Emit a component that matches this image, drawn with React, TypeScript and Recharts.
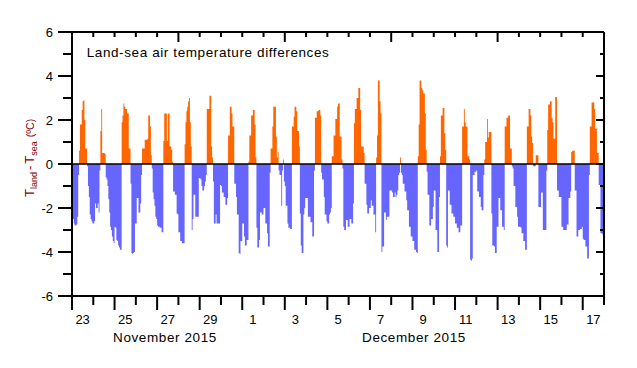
import React from 'react';
import { ComposedChart, Area, XAxis, YAxis, ReferenceLine } from 'recharts';

// Hourly land-sea air temperature differences (ºC), one array per day, hours 0..23
const nov23 = [-2.1,-2.5,-2.7,-2.8,-2.8,-2.75,-2.4,-0.5, 0.6,1.8,1.8,2.45,2.85,2.9,2.0,0.7, 0.7,-0.1,-1.0,-1.5,-2.3,-2.5,-2.6,-2.7];
const nov24 = [-2.7,-2.6,-1.8,-2.0,-2.0,-1.8,-2.2,-0.3, 1.5,2.5,0.5,0.5,0.5,0.45,-0.6,-0.7, -1.0,-1.6,-2.2,-2.85,-3.0,-3.3,-3.5,-3.6];
const nov25 = [-2.85,-2.9,-3.45,-3.5,-3.7,-3.8,-3.9,-3.9, 1.9,2.2,2.75,2.6,2.5,2.5,2.3,2.3, 0.7,0.7,-0.9,-4.05,-4.1,-4.05,-4.0,-2.7];
const nov26 = [-2.7,-1.55,-1.55,-2.2,-2.2,-1.8,-0.5,0.7, 0.7,0.7,1.1,1.1,1.1,1.15,2.2,2.2, 1.7,0.4,-0.2,-1.3,-1.6,-1.9,-2.4,-2.5];
const nov27 = [-2.8,-2.85,-2.85,-2.9,-2.9,-3.1,-3.1,1.05, 2.3,2.3,2.3,1.05,2.3,2.3,0.8,0.8, 0.65,0.1,-1.25,-1.25,-1.4,-1.4,-2.25,-2.3];
const nov28 = [-3.1,-3.1,-3.5,-3.5,-3.6,-3.6,-3.6,0.9, 1.9,2.4,2.6,2.85,3.0,1.9,0.8,-3.0, -2.5,-1.4,-1.4,-2.4,-2.4,-2.4,-2.4,-0.65];
const nov29 = [-0.65,-0.7,-1.0,-1.2,-1.2,-1.0,-0.8,-0.5, 2.5,2.5,2.5,3.1,3.1,0.8,0.3,-0.8, -2.7,-2.7,-2.3,-2.7,-2.7,-2.7,-2.7,-0.95];
const nov30 = [-1.0,-1.3,-1.3,-1.5,-1.5,-1.85,-1.85,-1.55, 1.3,1.3,2.6,2.6,2.3,1.7,1.7,-0.9, -0.9,-1.5,-2.3,-2.3,-4.05,-4.1,-3.5,-3.5];
const dec01 = [-2.7,-2.7,-3.3,-3.7,-3.7,-3.45,-3.45,0.1, 1.3,1.3,2.2,2.2,2.45,2.45,1.8,0.3, -2.9,-3.8,-3.8,-3.45,-2.2,-2.2,-2.3,-2.3];
const dec02 = [-2.0,-2.0,-2.7,-2.7,-3.15,-3.75,-3.75,-0.4, 0.7,0.7,1.7,2.6,2.6,2.6,1.25,0.3, 0.55,-0.3,-0.5,-0.5,-1.9,-0.3,0.2,-0.8];
const dec03 = [-1.0,-1.9,-1.9,-2.7,-2.9,-2.9,-2.95,-2.95, 1.7,1.7,2.15,2.6,2.6,2.4,1.5,1.5, 0.8,-2.25,-3.7,-4.05,-4.05,-2.3,-2.0,-1.55];
const dec04 = [-1.55,-1.55,-2.4,-2.4,-2.4,-2.65,-2.65,-3.3, -3.3,-0.3,2.1,2.1,2.4,2.4,2.45,2.45, 2.2,-0.4,-0.7,-0.7,-1.5,-2.3,-2.3,-2.6];
const dec05 = [-2.7,-2.7,-2.3,-2.2,-2.0,0.35,0.35,1.3, 1.3,2.05,2.05,2.6,2.75,2.75,1.25,1.25, 0.2,-0.2,-2.85,-3.0,-3.0,-2.55,-2.55,-2.85];
const dec06 = [-2.85,-2.5,-2.5,-2.7,-2.7,-1.8,1.85,2.5, 2.5,3.0,3.0,3.45,3.45,2.45,0.8,0.8, 0.8,0.5,-0.9,-0.9,-1.85,-2.25,-2.25,-2.0];
const dec07 = [-2.0,-1.65,-1.9,-1.9,-2.3,-2.3,-3.1,0.3, 1.3,3.8,3.8,2.85,2.3,-4.0,-3.75,-3.75, -2.2,-2.2,-2.55,-2.4,-2.4,-2.4,-1.2,-1.2];
const dec08 = [-1.2,-1.3,-1.5,-1.5,-1.3,-1.5,-1.4,-1.2, -0.5,-0.4,0.3,-0.4,-0.5,-0.9,-0.9,-1.25, -1.25,-1.65,-2.1,-2.1,-2.85,-2.85,-3.3,-3.3];
const dec09 = [-3.5,-3.5,-3.9,-3.9,-4.0,-4.05,0.35,1.8, 3.8,3.8,3.45,3.35,3.2,3.2,2.3,0.65, -0.35,-1.4,-1.4,-2.8,-2.8,-2.5,-2.5,-1.95];
const dec10 = [-1.2,-1.2,-3.0,-3.0,-4.0,-4.0,-1.5,0.35, 2.2,2.2,2.55,2.55,1.4,0.65,-3.7,-3.8, -1.2,-1.2,-1.85,-1.85,-2.25,-2.25,-2.4,-2.4];
const dec11 = [-2.7,-2.7,-2.9,-2.9,-3.1,-3.1,-2.8,-2.8, 1.7,1.7,2.5,1.9,1.7,1.7,0.35,0.35, 0.2,-4.35,-4.4,-4.3,-0.5,-0.5,-0.35,-0.35];
const dec12 = [-0.3,-1.25,-1.25,-1.5,-1.5,-1.95,-2.1,-2.1, -0.5,0.2,1.0,1.0,2.05,1.2,1.45,1.45, 1.45,-2.25,-3.7,-3.7,-3.75,-4.05,-4.05,-2.85];
const dec13 = [-2.85,-1.55,-1.55,-2.1,-2.1,-2.85,-2.85,-3.0, 1.7,1.7,2.1,2.1,2.2,2.2,0.7,0.7, -0.1,-0.2,-1.0,-1.0,-1.95,-1.95,-2.4,-2.85];
const dec14 = [-2.85,-2.85,-2.9,-3.15,-3.15,-3.5,-3.5,-3.9, -3.9,1.7,1.7,2.5,2.5,2.2,1.25,0.95, -0.1,-0.1,-0.1,0.4,0.4,0.4,-1.95,-1.95];
const dec15 = [-1.95,-1.3,-1.3,-3.0,-3.0,-3.0,-3.0,-0.3, 1.55,2.7,2.7,2.85,2.85,2.1,1.9,1.15, 1.15,3.05,3.05,-1.2,-1.2,-1.5,-1.5,-1.5];
const dec16 = [-2.85,-2.85,-3.0,-3.0,-3.0,-3.0,-2.75,-2.75, -1.55,-1.55,-1.25,0.55,0.6,0.6,0.6,-1.2, -1.2,-3.3,-3.3,-3.0,-3.0,-2.95,-2.95,-2.85];
const dec17 = [-3.4,-3.45,-3.45,-3.75,-3.75,-4.3,-4.3,-0.5, 1.7,1.7,2.8,2.8,2.8,2.5,1.6,1.6, 0.5,0.5,-0.95,-0.95,-3.15,-3.15,-3.2,-3.2];

const days = [nov23, nov24, nov25, nov26, nov27, nov28, nov29, nov30, dec01, dec02, dec03, dec04, dec05,
  dec06, dec07, dec08, dec09, dec10, dec11, dec12, dec13, dec14, dec15, dec16, dec17];

const dayLabels = ['23', '25', '27', '29', '1', '3', '5', '7', '9', '11', '13', '15', '17'];
const monthLabels = ['November 2015', 'December 2015'];
const yTicks = [-6, -5, -4, -3, -2, -1, 0, 1, 2, 3, 4, 5, 6];
const xTicks = Array.from({ length: days.length + 1 }, (_, i) => i);
const titleText = 'Land-sea air temperature differences';

const ORANGE = '#FF6600';
const BLUE = '#6666FF';
const FONT = '"Liberation Sans", Arial, sans-serif';

const W = 629;
const H = 352;
const PLOT_W = 532;
const DAY_PX = PLOT_W / days.length;

const rows: { t: number; pos: number; neg: number }[] = [];
days.forEach((vals, d) => {
  vals.forEach((v, h) => {
    rows.push({ t: d + h / 24, pos: v > 0 ? v : 0, neg: v < 0 ? v : 0 });
  });
});
{
  const last = dec17[dec17.length - 1];
  rows.push({ t: days.length, pos: last > 0 ? last : 0, neg: last < 0 ? last : 0 });
}

const LeftTick = (props: any) => {
  const { x, y, payload } = props;
  const v = payload.value;
  const major = v % 2 === 0;
  const len = major ? 14 : 9;
  return (
    <g>
      <line x1={x - len} x2={x} y1={y} y2={y} stroke="#000" strokeWidth={2} />
      {major && (
        <text x={x - 19} y={y + 4.7} textAnchor="end" fontSize={13} fontFamily={FONT} fill="#000">
          {String(v)}
        </text>
      )}
    </g>
  );
};

const RightTick = (props: any) => {
  const { x, y, payload } = props;
  const major = payload.value % 2 === 0;
  const len = major ? 8 : 4;
  return <line x1={x - len} x2={x} y1={y} y2={y} stroke="#000" strokeWidth={2} />;
};

const BottomTick = (props: any) => {
  const { x, y, payload } = props;
  const d = payload.value;
  const major = d % 2 === 0;
  const len = major ? 14 : 9;
  const lbl = major && d < days.length ? dayLabels[d / 2] : null;
  return (
    <g>
      <line x1={x} x2={x} y1={y} y2={y + len} stroke="#000" strokeWidth={2} />
      {lbl && (
        <text x={x + DAY_PX / 2} y={y + 28} textAnchor="middle" fontSize={13} fontFamily={FONT} fill="#000">
          {lbl}
        </text>
      )}
    </g>
  );
};

const TopTick = (props: any) => {
  const { x, y, payload } = props;
  const d = payload.value;
  const len = d % 5 === 0 ? 10 : 5;
  return <line x1={x} x2={x} y1={y} y2={y + len} stroke="#000" strokeWidth={2} />;
};

export default function App() {
  return (
    <div style={{ position: 'relative', width: W, height: H }}>
      <ComposedChart width={W} height={H} data={rows} margin={{ top: 14, right: 23, bottom: 10, left: 0 }}>
        <XAxis
          xAxisId="bottom"
          orientation="bottom"
          type="number"
          dataKey="t"
          domain={[0, days.length]}
          allowDataOverflow
          ticks={xTicks}
          interval={0}
          height={54}
          tickSize={0}
          tickMargin={0}
          tickLine={false}
          axisLine={{ stroke: '#000', strokeWidth: 2 }}
          tick={<BottomTick />}
        />
        <XAxis
          xAxisId="top"
          orientation="top"
          type="number"
          dataKey="t"
          domain={[0, days.length]}
          allowDataOverflow
          ticks={xTicks}
          interval={0}
          height={10}
          tickSize={0}
          tickMargin={0}
          tickLine={false}
          axisLine={{ stroke: '#000', strokeWidth: 2 }}
          tick={<TopTick />}
        />
        <YAxis
          yAxisId="left"
          orientation="left"
          type="number"
          domain={[-6, 6]}
          allowDataOverflow
          ticks={yTicks}
          interval={0}
          width={64}
          tickSize={0}
          tickMargin={0}
          tickLine={false}
          axisLine={{ stroke: '#000', strokeWidth: 2 }}
          tick={<LeftTick />}
        />
        <YAxis
          yAxisId="right"
          orientation="right"
          type="number"
          domain={[-6, 6]}
          allowDataOverflow
          ticks={yTicks}
          interval={0}
          width={10}
          tickSize={0}
          tickMargin={0}
          tickLine={false}
          axisLine={{ stroke: '#000', strokeWidth: 2 }}
          tick={<RightTick />}
        />
        <Area
          xAxisId="bottom"
          yAxisId="left"
          type="stepAfter"
          dataKey="pos"
          stroke="none"
          fill={ORANGE}
          fillOpacity={1}
          dot={false}
          activeDot={false}
          isAnimationActive={false}
        />
        <Area
          xAxisId="bottom"
          yAxisId="left"
          type="stepAfter"
          dataKey="neg"
          stroke="none"
          fill={BLUE}
          fillOpacity={1}
          dot={false}
          activeDot={false}
          isAnimationActive={false}
        />
        <ReferenceLine xAxisId="bottom" yAxisId="left" y={0} stroke="#000" strokeWidth={1.5} />
      </ComposedChart>
      <svg
        width={W}
        height={H}
        style={{ position: 'absolute', left: 0, top: 0, pointerEvents: 'none' }}
      >
        <text x={78.7} y={49} fontSize={13.5} letterSpacing={0.6} fontFamily={FONT} fill="#000">
          {titleText}
        </text>
        <text x={157} y={334} textAnchor="middle" fontSize={13.5} letterSpacing={0.6} fontFamily={FONT} fill="#000">
          {monthLabels[0]}
        </text>
        <text x={406} y={334} textAnchor="middle" fontSize={13.5} letterSpacing={0.6} fontFamily={FONT} fill="#000">
          {monthLabels[1]}
        </text>
        <text transform="translate(26.3,189) rotate(-90)" fontSize={13} fontFamily={FONT} fill="#800000">
          <tspan>T</tspan>
          <tspan fontSize={9} dy={3}>land</tspan>
          <tspan dy={-3} dx={2}>-</tspan>
          <tspan dx={2}>T</tspan>
          <tspan fontSize={9} dy={3}>sea</tspan>
          <tspan fontSize={10.5} dy={-3} dx={4}>(ºC)</tspan>
        </text>
      </svg>
    </div>
  );
}
